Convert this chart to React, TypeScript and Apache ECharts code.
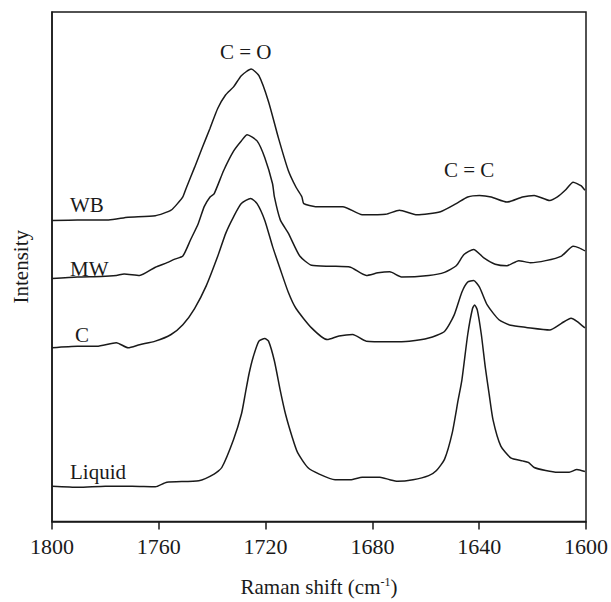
import React, { useEffect, useRef } from "react";
import * as echarts from "echarts";

const xTicks = [1800, 1760, 1720, 1680, 1640, 1600];

const liquidShift = [1800, 1790, 1780, 1770, 1761.3, 1757, 1745, 1739.3, 1736.4, 1732, 1729, 1727.6, 1726.2, 1724.7, 1722.5, 1720.3, 1718.9, 1716.7, 1714.5, 1712.5, 1710, 1708, 1704.2, 1699.9, 1694, 1688.2, 1683.8, 1677.2, 1673.5, 1670.6, 1664.8, 1658.9, 1656, 1653, 1650.1, 1647.9, 1646.5, 1644.3, 1642.5, 1641.7, 1640.7, 1639.2, 1637.7, 1636.3, 1634.8, 1631.9, 1628.2, 1623.8, 1621.6, 1619.4, 1615.1, 1610.7, 1606.3, 1603.4, 1600.4];
const liquidIntensity = [6.9, 6.7, 6.9, 6.9, 6.8, 7.7, 8.0, 9.3, 10.6, 16.1, 21.2, 25.1, 29, 32.2, 35.4, 35.9, 35.4, 31.5, 25.7, 21, 16.5, 13.5, 10.6, 9.3, 8.2, 8.2, 8.7, 8.7, 8.2, 7.9, 8.2, 9.0, 10, 12.2, 17.4, 23.8, 27.7, 36.7, 41.8, 42.5, 41.5, 36.7, 30.2, 25.1, 19.9, 14.8, 12.5, 11.9, 11.6, 10.6, 10, 9.65, 9.65, 10.2, 9.8];

const cShift = [1800, 1790.5, 1783.2, 1775.9, 1771.5, 1767.2, 1761.3, 1755.4, 1751, 1746.6, 1742.2, 1737.9, 1734.9, 1732, 1729.1, 1725.6, 1723.2, 1720.3, 1717.4, 1714.5, 1711.5, 1708.6, 1702.8, 1696.9, 1692.5, 1687.4, 1682.3, 1673.5, 1666.2, 1658.9, 1653, 1649.4, 1646.5, 1644.3, 1642.1, 1639.9, 1637, 1632.6, 1628.2, 1622.4, 1613.6, 1609.2, 1605.6, 1603.4, 1600.4];
const cIntensity = [34.1, 34.4, 34.4, 35.1, 34.1, 34.7, 35.4, 36.7, 38.6, 41.8, 46.3, 52.1, 56.6, 59.8, 62.4, 63.4, 62.4, 59.1, 54, 49.5, 45, 41.8, 38, 35.7, 36.4, 36.7, 35.4, 35.3, 35.4, 36, 37.3, 40.5, 45, 47, 47.3, 46, 42.5, 39.6, 38.5, 38.1, 37.6, 38.9, 39.9, 39.3, 38];

const mwShift = [1800, 1790.5, 1781.7, 1775.9, 1773, 1767.2, 1761.3, 1756.9, 1754, 1751, 1748.1, 1745.2, 1743, 1740.8, 1739.3, 1735.7, 1732, 1729.1, 1726.9, 1723.2, 1720.3, 1717.4, 1716.7, 1714.5, 1711.5, 1707.2, 1702.8, 1695.5, 1688.2, 1682.3, 1677.9, 1673.5, 1669.1, 1658.9, 1653, 1648.6, 1645.7, 1642.1, 1638.4, 1634, 1629.6, 1625.2, 1620.9, 1615.1, 1609.2, 1604.8, 1602.6, 1600.4];
const mwIntensity = [47.7, 48, 48.1, 48.3, 48.6, 48.3, 49.9, 50.8, 51.5, 52.1, 55.3, 58.5, 61.8, 63.7, 64.3, 68.9, 72.7, 74.7, 75.9, 74.7, 71.4, 66.3, 63.7, 59.2, 56.6, 52.1, 50.3, 50.1, 49.9, 48.3, 48.8, 49, 48, 48.3, 48.9, 50.2, 52.4, 53.4, 51.8, 50.5, 50.2, 51.2, 50.8, 51.2, 52.1, 54, 53.7, 53.1];

const wbShift = [1800, 1790.5, 1778.8, 1771.5, 1761.3, 1755.4, 1752.5, 1751, 1749.6, 1746.6, 1743.7, 1740.8, 1737.9, 1735, 1732, 1729.1, 1725.4, 1722.5, 1718.9, 1715.2, 1711.5, 1708.6, 1706.4, 1705.7, 1701.3, 1691.1, 1683.8, 1675, 1669.9, 1663.3, 1654.5, 1648.6, 1644.3, 1639.9, 1635.5, 1629.6, 1623.8, 1619.4, 1613.6, 1610.7, 1607.8, 1604.8, 1601.9, 1600.4];
const wbIntensity = [59.1, 59.2, 59.2, 59.7, 60, 61.1, 62.7, 63.7, 65.6, 69.5, 73.4, 77.2, 81.1, 83.7, 85.3, 87.5, 88.8, 87.5, 82.4, 75.3, 68.9, 65.6, 63.7, 62.4, 61.8, 61.8, 60.2, 60.3, 61.1, 60.2, 60.8, 62.4, 63.7, 64, 63.7, 62.7, 63.7, 64, 63, 63.7, 65, 66.6, 65.9, 65];

const seriesNames = ["WB", "MW", "C", "Liquid"];

const pair = (xs: number[], ys: number[]) => xs.map((x, i) => [x, ys[i]]);

const FONT = "'Liberation Serif', 'DejaVu Serif', serif";
const INK = "#1a1a1a";

export default function App() {
  const ref = useRef<HTMLDivElement>(null);
  useEffect(() => {
    if (!ref.current) return;
    const chart = echarts.init(ref.current, null, { renderer: "svg" });
    const lineStyle = { color: INK, width: 1.5 };
    const datasets = [
      pair(wbShift, wbIntensity),
      pair(mwShift, mwIntensity),
      pair(cShift, cIntensity),
      pair(liquidShift, liquidIntensity),
    ];
    const label = (text: string, left: number, top: number) => ({
      type: "text",
      left,
      top,
      style: { text, font: `21px ${FONT}`, fill: INK },
    });
    chart.setOption({
      animation: false,
      backgroundColor: "#fff",
      grid: {
        left: 52,
        right: 25,
        top: 12,
        bottom: 72,
        show: true,
        borderColor: INK,
        borderWidth: 1.5,
      },
      xAxis: {
        type: "value",
        inverse: true,
        min: 1600,
        max: 1800,
        interval: 40,
        name: "{a|Raman shift (cm}{s|-1}{a|)}",
        nameLocation: "middle",
        nameGap: 54,
        nameTextStyle: {
          rich: {
            a: { fontFamily: FONT, fontSize: 21, color: INK },
            s: { fontFamily: FONT, fontSize: 12, color: INK, padding: [0, 0, 10, 0] },
          },
        },
        axisLine: { show: true, lineStyle: { color: INK, width: 1.5 } },
        axisTick: { show: true, length: 8, lineStyle: { color: INK, width: 1.5 } },
        axisLabel: {
          fontFamily: FONT,
          fontSize: 22,
          color: INK,
          margin: 14,
          formatter: (v: number) => (xTicks.includes(v) ? String(v) : ""),
        },
        splitLine: { show: false },
      },
      yAxis: {
        type: "value",
        min: 0,
        max: 100,
        name: "Intensity",
        nameLocation: "middle",
        nameGap: 21,
        nameTextStyle: { fontFamily: FONT, fontSize: 21, color: INK },
        axisLine: { show: true, lineStyle: { color: INK, width: 1.5 } },
        axisTick: { show: false },
        axisLabel: { show: false },
        splitLine: { show: false },
      },
      series: datasets.map((d, i) => ({
        name: seriesNames[i],
        type: "line",
        data: d,
        showSymbol: false,
        symbol: "none",
        smooth: 0.2,
        lineStyle,
      })),
      graphic: [
        label("WB", 70, 194),
        label("MW", 70, 258),
        label("C", 75, 324),
        label("Liquid", 70, 461),
        label("C = O", 220, 41),
        label("C = C", 444, 159),
      ],
    });
    return () => chart.dispose();
  }, []);
  return (
    <div
      ref={ref}
      style={{ position: "fixed", left: 0, top: 0, width: 611, height: 602 }}
    />
  );
}
